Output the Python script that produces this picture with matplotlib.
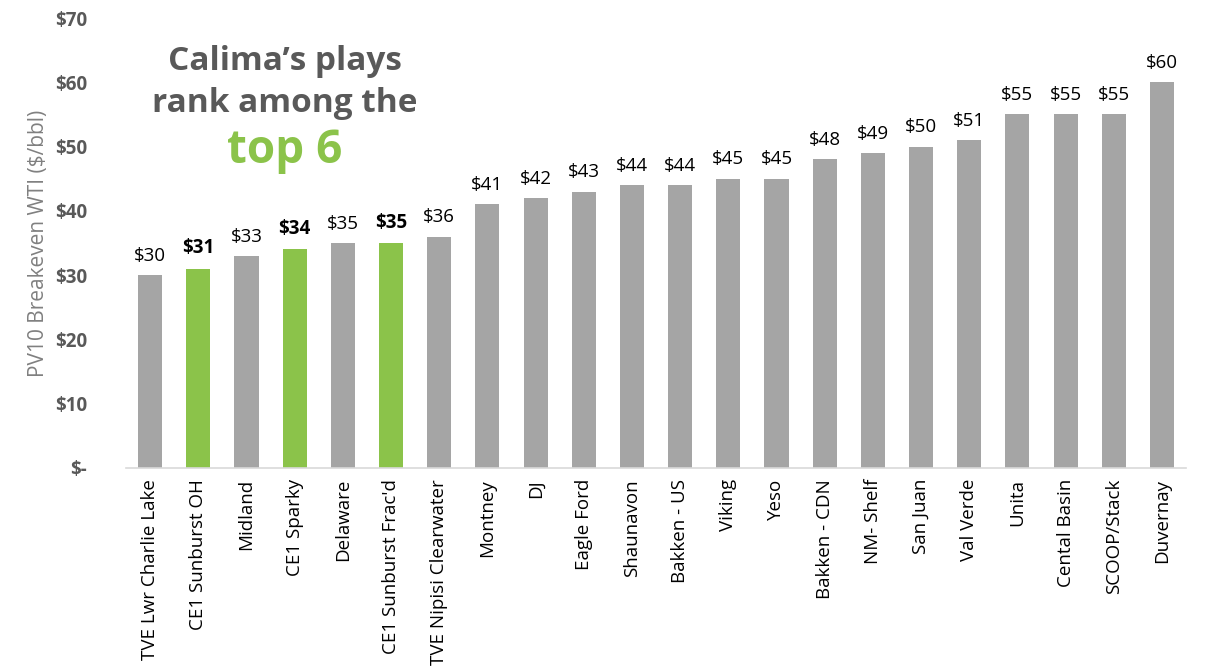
import matplotlib
matplotlib.use("Agg")
import matplotlib.pyplot as plt

categories = ["TVE Lwr Charlie Lake", "CE1 Sunburst OH", "Midland", "CE1 Sparky",
              "Delaware", "CE1 Sunburst Frac'd", "TVE Nipisi Clearwater", "Montney",
              "DJ", "Eagle Ford", "Shaunavon", "Bakken - US", "Viking", "Yeso",
              "Bakken - CDN", "NM- Shelf", "San Juan", "Val Verde", "Unita",
              "Cental Basin", "SCOOP/Stack", "Duvernay"]
values = [30, 31, 33, 34, 35, 35, 36, 41, 42, 43, 44, 44, 45, 45, 48, 49, 50, 51, 55, 55, 55, 60]
highlight = [False, True, False, True, False, True] + [False] * 16
yticks = [0, 10, 20, 30, 40, 50, 60, 70]
ytick_labels = ["$-", "$10", "$20", "$30", "$40", "$50", "$60", "$70"]

GRAY = "#A5A5A5"
GREEN = "#8BC34A"
TXT = "#595959"
plt.rcParams['font.family'] = ['Open Sans', 'DejaVu Sans']

fig = plt.figure(figsize=(12.09, 6.67), dpi=100)
ax = fig.add_axes([126/1209, 1 - 468/667, (1186-126)/1209, (468-18)/667])

x = list(range(len(categories)))
colors = [GREEN if h else GRAY for h in highlight]
bars = ax.bar(x, values, width=0.5, color=colors)
for xi, v, h in zip(x, values, highlight):
    ax.text(xi, v + 1.6, f"${v}", ha="center", va="bottom", fontsize=13.5,
            fontweight="bold" if h else "normal", color="black")

ax.set_xlim(-0.5, len(categories) - 0.5)
ax.set_ylim(0, 70)
ax.set_yticks(yticks)
ax.set_yticklabels(ytick_labels, fontsize=13.5, fontweight="bold", color=TXT)
ax.set_xticks(x)
ax.set_xticklabels(categories, rotation=90, fontsize=13.5, color="black")
ax.tick_params(axis="both", length=0)
ax.tick_params(axis="y", pad=28)
ax.tick_params(axis="x", pad=8)
for s in ["top", "right", "left"]:
    ax.spines[s].set_visible(False)
ax.spines["bottom"].set_color("#D9D9D9")
ax.spines["bottom"].set_linewidth(1.2)
ax.set_ylabel("PV10 Breakeven WTI ($/bbl)", fontsize=15, color="#808080", labelpad=4)

fig.text(285/1209, 1 - 62/667, "Calima\u2019s plays", ha="center", va="center",
         fontsize=24, fontweight="bold", color=TXT)
fig.text(285/1209, 1 - 104/667, "rank among the", ha="center", va="center",
         fontsize=24, fontweight="bold", color=TXT)
fig.text(285/1209, 1 - 150/667, "top 6", ha="center", va="center",
         fontsize=33, fontweight="bold", color=GREEN)

fig.savefig("out.png", dpi=100)
